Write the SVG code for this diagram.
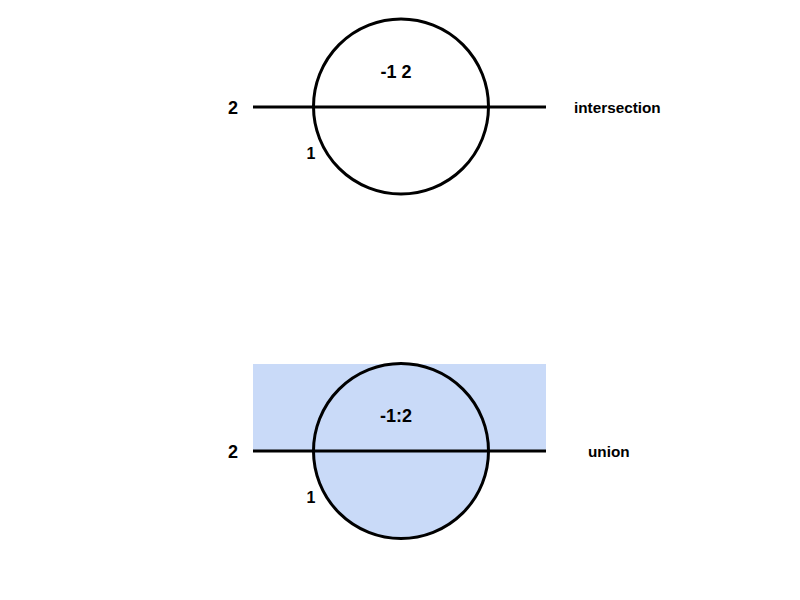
<svg xmlns="http://www.w3.org/2000/svg" width="800" height="600" viewBox="0 0 800 600">
<style>
.s{fill:none;stroke:#000;stroke-width:3}
.t{font-family:"Liberation Sans",Arial,sans-serif;font-weight:bold;fill:#000}
</style>
<rect width="800" height="600" fill="#fff"/>
<g id="intersection">
<circle class="s" cx="401" cy="106.5" r="87.5"/>
<line class="s" x1="253" y1="107" x2="546" y2="107"/>
<text class="t" x="396" y="78" font-size="18" text-anchor="middle">-1 2</text>
<text class="t" x="233" y="114" font-size="18" text-anchor="middle">2</text>
<text class="t" x="311" y="159" font-size="16" text-anchor="middle">1</text>
<text class="t" x="574" y="113" font-size="15.3">intersection</text>
</g>
<g id="union">
<rect x="253" y="364" width="293" height="87" fill="#c9daf8"/>
<path d="M313.5 451 A87.5 87.5 0 0 0 488.5 451 Z" fill="#c9daf8"/>
<circle class="s" cx="401" cy="451" r="87.5"/>
<line class="s" x1="253" y1="451" x2="546" y2="451"/>
<text class="t" x="396" y="422" font-size="18" text-anchor="middle">-1:2</text>
<text class="t" x="233" y="458" font-size="18" text-anchor="middle">2</text>
<text class="t" x="311" y="503" font-size="16" text-anchor="middle">1</text>
<text class="t" x="588" y="457" font-size="15.3">union</text>
</g>
</svg>
